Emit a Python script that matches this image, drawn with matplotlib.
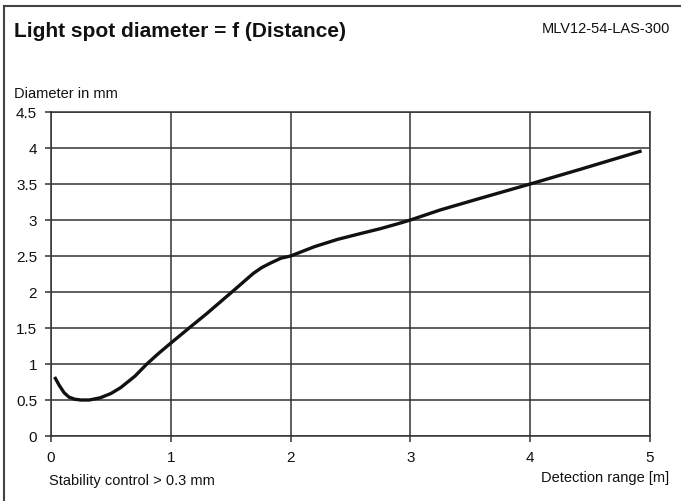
import matplotlib.pyplot as plt
from matplotlib.lines import Line2D

# curve
distance = [0.03, 0.07, 0.11, 0.15, 0.20, 0.25, 0.32, 0.41, 0.50, 0.58, 0.70, 0.80, 0.90,
            1.00, 1.16, 1.30, 1.51, 1.60, 1.69, 1.76, 1.83, 1.92, 2.00, 2.20, 2.39, 2.58,
            2.75, 2.90, 3.00, 3.25, 3.58, 4.00, 4.41, 4.93]
diameter = [0.82, 0.70, 0.60, 0.54, 0.51, 0.50, 0.50, 0.53, 0.59, 0.67, 0.83, 1.00, 1.15,
            1.29, 1.51, 1.70, 2.00, 2.13, 2.26, 2.34, 2.40, 2.47, 2.50, 2.63, 2.73, 2.81,
            2.88, 2.95, 3.00, 3.14, 3.30, 3.50, 3.70, 3.96]
x_ticks = [0, 1, 2, 3, 4, 5]
y_ticks = [0, 0.5, 1, 1.5, 2, 2.5, 3, 3.5, 4, 4.5]
y_labels = ["0", "0.5", "1", "1.5", "2", "2.5", "3", "3.5", "4", "4.5"]

plt.rcParams['font.family'] = ['Liberation Sans', 'DejaVu Sans']
grid_col = '#333333'

fig = plt.figure(figsize=(6.81, 5.01), dpi=100)
ax = fig.add_axes([51 / 681, 65 / 501, 599 / 681, 324 / 501])

ax.plot(distance, diameter, color='#111111', lw=2.4, solid_capstyle='butt', zorder=3)

ax.set_xlim(0, 5)
ax.set_ylim(0, 4.5)
ax.set_xticks(x_ticks)
ax.set_yticks(y_ticks)
ax.set_yticklabels(y_labels)
ax.grid(True, color=grid_col, lw=1.1)
for s in ax.spines.values():
    s.set_color(grid_col)
    s.set_linewidth(1.1)
ax.tick_params(direction='out', length=4, width=1.1, color=grid_col,
               labelsize=11, labelcolor='#111111')
ax.tick_params(axis='x', pad=7)
ax.tick_params(axis='y', pad=6)

# outer frame (top and left only)
fig.add_artist(Line2D([4 / 681, 1], [1 - 6 / 501, 1 - 6 / 501], color='#444444', lw=1.5))
fig.add_artist(Line2D([4 / 681, 4 / 681], [0, 1 - 6 / 501], color='#444444', lw=1.5))

fig.text(14 / 681, 1 - 37 / 501, "Light spot diameter = f (Distance)", fontsize=15,
         fontweight='bold', va='baseline', ha='left', color='#111111')
fig.text(670 / 681, 1 - 33 / 501, "MLV12-54-LAS-300", fontsize=10.5,
         va='baseline', ha='right', color='#111111')
fig.text(14 / 681, 1 - 98 / 501, "Diameter in mm", fontsize=10.5,
         va='baseline', ha='left', color='#111111')
fig.text(49 / 681, 1 - 485 / 501, "Stability control > 0.3 mm", fontsize=10.5,
         va='baseline', ha='left', color='#111111')
fig.text(669 / 681, 1 - 482 / 501, "Detection range [m]", fontsize=10.5,
         va='baseline', ha='right', color='#111111')

fig.savefig('out.png', dpi=100)
